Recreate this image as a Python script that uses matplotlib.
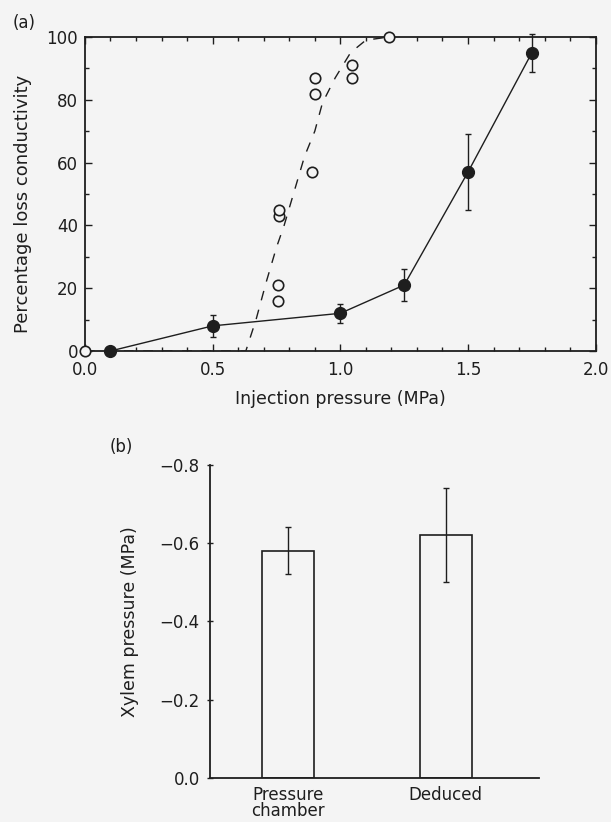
import numpy as np
import matplotlib.pyplot as plt
from matplotlib.ticker import MultipleLocator

plt.rcParams['font.family'] = ['DejaVu Sans']
ink = '#1e1e1e'
paper = '#f4f4f4'
fs = 12

# (a) air-injection data, filled symbols with error bars
inj_x = [0.1, 0.5, 1.0, 1.25, 1.5, 1.75]
inj_y = [0, 8, 12, 21, 57, 95]
inj_err = [0, 3.5, 3, 5, 12, 6]

# (a) open symbols
open_x = [0.0, 0.755, 0.755, 0.76, 0.76, 0.89, 0.90, 0.90, 1.045, 1.045, 1.19]
open_y = [0, 16, 21, 43, 45, 57, 82, 87, 87, 91, 100]

# (a) dashed curve through the open symbols
curve_x = [0.0, 0.63, 0.67, 0.71, 0.75, 0.78, 0.82, 0.86, 0.90, 0.93, 0.98, 1.04, 1.10, 1.19]
curve_y = [0, 0, 10, 22, 33, 40, 51, 62, 70, 79, 87, 95, 99, 100]

# (b) xylem pressure
methods = ['Pressure\nchamber', 'Deduced']
xylem_p = [-0.58, -0.62]
xylem_err = [0.06, 0.12]

fig = plt.figure(figsize=(6.11, 8.22), dpi=100)
fig.patch.set_facecolor(paper)

# ---- panel a ----
ax = fig.add_axes([0.139, 0.573, 0.836, 0.382])
ax.set_facecolor(paper)
ax.plot(curve_x, curve_y, color=ink, lw=1.0, linestyle=(0, (7, 7)), zorder=2)
ax.plot(open_x, open_y, 'o', ms=7.5, mfc=paper, mec=ink, mew=1.2, zorder=3,
        clip_on=False)
ax.errorbar(inj_x, inj_y, yerr=inj_err, fmt='-o', color=ink, ms=8.5, lw=1.0,
            elinewidth=1.0, capsize=2, zorder=4, clip_on=False)
ax.set_xlim(0, 2.0)
ax.set_ylim(0, 100)
ax.xaxis.set_major_locator(MultipleLocator(0.5))
ax.xaxis.set_minor_locator(MultipleLocator(0.1))
ax.yaxis.set_major_locator(MultipleLocator(20))
ax.yaxis.set_minor_locator(MultipleLocator(10))
ax.xaxis.set_major_formatter(plt.FuncFormatter(lambda v, p: f'{v:.1f}'))
ax.tick_params(which='both', direction='in', top=True, right=True, colors=ink,
               labelsize=fs, width=1.0)
ax.tick_params(which='major', length=5)
ax.tick_params(which='minor', length=3)
ax.tick_params(axis='x', pad=7)
ax.tick_params(axis='y', pad=5)
for s in ax.spines.values():
    s.set_linewidth(1.3)
    s.set_color(ink)
ax.set_xlabel('Injection pressure (MPa)', fontsize=12.5, color=ink)
ax.set_ylabel('Percentage loss conductivity', fontsize=13, color=ink)
ax.xaxis.set_label_coords(0.5, -0.125)
ax.yaxis.set_label_coords(-0.104, 0.468)
fig.text(0.021, 0.972, '(a)', fontsize=fs, color=ink, va='center')

# ---- panel b ----
bx = fig.add_axes([0.344, 0.0535, 0.538, 0.381])
bx.set_facecolor('none')
pos = np.arange(len(methods))
bx.bar(pos, xylem_p, width=0.33, color='none', edgecolor=ink, lw=1.2)
bx.errorbar(pos, xylem_p, yerr=xylem_err, fmt='none', ecolor=ink,
            elinewidth=1.0, capsize=2)
bx.set_xlim(-0.494, 1.59)
bx.set_ylim(0, -0.8)
bx.set_yticks([0.0, -0.2, -0.4, -0.6, -0.8])
bx.yaxis.set_major_formatter(plt.FuncFormatter(
    lambda v, p: '0.0' if abs(v) < 1e-9 else f'\u2212{abs(v):.1f}'))
bx.set_xticks(pos)
bx.set_xticklabels(methods, fontsize=fs, color=ink, linespacing=0.85)
bx.tick_params(axis='x', length=0, pad=6)
bx.tick_params(axis='y', direction='inout', length=5, width=1.0, colors=ink,
               labelsize=fs, pad=5)
bx.spines['top'].set_visible(False)
bx.spines['right'].set_visible(False)
for s in ('left', 'bottom'):
    bx.spines[s].set_linewidth(1.3)
    bx.spines[s].set_color(ink)
bx.set_ylabel('Xylem pressure (MPa)', fontsize=12.5, color=ink)
bx.yaxis.set_label_coords(-0.216, 0.5)
fig.text(0.18, 0.456, '(b)', fontsize=fs, color=ink, va='center')

fig.savefig('out.png', dpi=100, facecolor=fig.get_facecolor())
